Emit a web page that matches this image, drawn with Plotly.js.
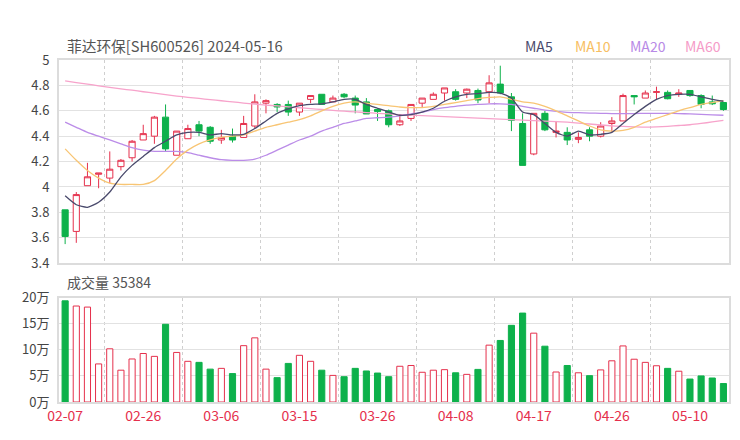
<!DOCTYPE html>
<html>
<head>
<meta charset="utf-8">
<script src="https://cdn.plot.ly/plotly-3.0.1.min.js"></script>
<style>
  body { margin: 0; background: #fff; }
  #chart { width: 740px; height: 440px; }
</style>
</head>
<body>
<div id="chart"></div>
<script>
// trading days shown (2024)
const dates = [
  "02-07", "02-08", "02-19", "02-20", "02-21", "02-22", "02-23", "02-26", "02-27", "02-28",
  "02-29", "03-01", "03-04", "03-05", "03-06", "03-07", "03-08", "03-11", "03-12", "03-13",
  "03-14", "03-15", "03-18", "03-19", "03-20", "03-21", "03-22", "03-25", "03-26", "03-27",
  "03-28", "03-29", "04-01", "04-02", "04-03", "04-08", "04-09", "04-10", "04-11", "04-12",
  "04-15", "04-16", "04-17", "04-18", "04-19", "04-22", "04-23", "04-24", "04-25", "04-26",
  "04-29", "04-30", "05-06", "05-07", "05-08", "05-09", "05-10", "05-13", "05-14", "05-15",
];
const labelDates = ["02-07", "02-26", "03-06", "03-15", "03-26", "04-08", "04-17", "04-26", "05-10"];

const openP = [
  3.82, 3.65, 4.01, 4.10, 4.07, 4.16, 4.23, 4.37, 4.40, 4.55,
  4.25, 4.38, 4.49, 4.47, 4.37, 4.40, 4.39, 4.48, 4.66, 4.65,
  4.65, 4.59, 4.69, 4.73, 4.67, 4.73, 4.70, 4.67, 4.61, 4.60,
  4.49, 4.54, 4.66, 4.69, 4.74, 4.75, 4.74, 4.76, 4.75, 4.81,
  4.71, 4.50, 4.26, 4.58, 4.43, 4.43, 4.375, 4.45, 4.40, 4.50,
  4.52, 4.72, 4.70, 4.745, 4.745, 4.73, 4.76, 4.72, 4.67, 4.665,
];
const highP = [
  3.82, 3.96, 4.19, 4.11, 4.28, 4.22, 4.37, 4.49, 4.56, 4.65,
  4.44, 4.49, 4.52, 4.48, 4.45, 4.46, 4.56, 4.73, 4.69, 4.66,
  4.68, 4.66, 4.72, 4.73, 4.72, 4.74, 4.72, 4.70, 4.62, 4.61,
  4.57, 4.65, 4.70, 4.745, 4.78, 4.77, 4.775, 4.775, 4.88, 4.955,
  4.74, 4.58, 4.58, 4.60, 4.52, 4.47, 4.43, 4.47, 4.51, 4.55,
  4.735, 4.72, 4.76, 4.79, 4.76, 4.77, 4.76, 4.73, 4.72, 4.67,
];
const lowP = [
  3.55, 3.56, 4.01, 3.99, 4.03, 4.13, 4.20, 4.37, 4.34, 4.28,
  4.25, 4.38, 4.40, 4.34, 4.34, 4.35, 4.39, 4.46, 4.58, 4.59,
  4.56, 4.56, 4.66, 4.65, 4.67, 4.70, 4.58, 4.575, 4.52, 4.47,
  4.48, 4.52, 4.63, 4.69, 4.68, 4.68, 4.70, 4.66, 4.66, 4.73,
  4.44, 4.17, 4.25, 4.44, 4.39, 4.33, 4.345, 4.36, 4.39, 4.43,
  4.52, 4.65, 4.70, 4.69, 4.69, 4.71, 4.71, 4.62, 4.645, 4.60,
];
const closeP = [
  3.61, 3.94, 4.08, 4.11, 4.14, 4.21, 4.36, 4.42, 4.55, 4.30,
  4.44, 4.46, 4.44, 4.36, 4.39, 4.37, 4.50, 4.67, 4.68, 4.63,
  4.59, 4.66, 4.72, 4.65, 4.70, 4.71, 4.645, 4.575, 4.595, 4.49,
  4.52, 4.65, 4.70, 4.73, 4.78, 4.69, 4.77, 4.685, 4.82, 4.74,
  4.525, 4.17, 4.58, 4.45, 4.44, 4.37, 4.39, 4.40, 4.48, 4.52,
  4.72, 4.71, 4.74, 4.75, 4.695, 4.74, 4.72, 4.65, 4.655, 4.61,
];

const ma5 = [
  3.93, 3.86, 3.84, 3.88, 3.96, 4.08, 4.17, 4.24, 4.31, 4.36,
  4.41, 4.43, 4.43, 4.41, 4.42, 4.41, 4.415, 4.46, 4.52, 4.58,
  4.615, 4.64, 4.65, 4.655, 4.67, 4.69, 4.69, 4.65, 4.62, 4.59,
  4.565, 4.57, 4.59, 4.62, 4.675, 4.71, 4.73, 4.735, 4.745, 4.74,
  4.70, 4.59, 4.57, 4.50, 4.43, 4.40, 4.44, 4.41, 4.415, 4.43,
  4.50, 4.57, 4.635, 4.69, 4.72, 4.73, 4.73, 4.71, 4.69, 4.675,
];
const ma10 = [
  4.30, 4.21, 4.13, 4.07, 4.03, 4.02, 4.02, 4.02, 4.05, 4.13,
  4.22, 4.29, 4.34, 4.37, 4.39, 4.40, 4.41, 4.44, 4.47, 4.49,
  4.51, 4.53, 4.56, 4.60, 4.635, 4.66, 4.67, 4.66, 4.65, 4.64,
  4.63, 4.625, 4.625, 4.635, 4.65, 4.665, 4.68, 4.695, 4.705, 4.71,
  4.69, 4.67, 4.66, 4.635, 4.60, 4.56, 4.52, 4.48, 4.45, 4.44,
  4.445, 4.47, 4.51, 4.54, 4.57, 4.60, 4.625, 4.65, 4.665, 4.68,
];
const ma20 = [
  4.51, 4.47, 4.43, 4.40, 4.37, 4.34, 4.31, 4.29, 4.28, 4.28,
  4.28, 4.27, 4.25, 4.23, 4.215, 4.21, 4.21, 4.22, 4.25, 4.29,
  4.33, 4.37, 4.40, 4.44, 4.47, 4.50, 4.52, 4.54, 4.545, 4.55,
  4.56, 4.575, 4.59, 4.61, 4.625, 4.635, 4.645, 4.65, 4.655, 4.655,
  4.65, 4.635, 4.62, 4.605, 4.595, 4.588, 4.585, 4.582, 4.58, 4.578,
  4.578, 4.578, 4.58, 4.58, 4.58, 4.578, 4.575, 4.572, 4.568, 4.565,
];
const ma60 = [
  4.835, 4.822, 4.81, 4.797, 4.785, 4.773, 4.762, 4.75, 4.739, 4.728,
  4.716, 4.706, 4.697, 4.688, 4.679, 4.67, 4.661, 4.652, 4.645, 4.638,
  4.631, 4.624, 4.617, 4.61, 4.603, 4.597, 4.591, 4.586, 4.58, 4.575,
  4.57, 4.566, 4.562, 4.558, 4.554, 4.55, 4.546, 4.542, 4.538, 4.534,
  4.53, 4.527, 4.523, 4.519, 4.515, 4.51, 4.503, 4.496, 4.488, 4.481,
  4.477, 4.474, 4.472, 4.474, 4.478, 4.484, 4.49, 4.50, 4.512, 4.525,
];

// volume in 万 shares, and whether the bar is drawn as an up (red) day
const volume = [
  19.4, 18.4, 18.2, 7.3, 10.2, 6.1, 8.25, 9.3, 8.75, 14.9,
  9.5, 7.8, 7.6, 6.3, 6.45, 5.45, 10.8, 12.3, 6.3, 4.67,
  7.4, 8.95, 7.8, 6.1, 5.1, 4.85, 6.45, 5.95, 5.55, 4.85,
  6.85, 7.0, 5.7, 6.1, 6.2, 5.6, 5.3, 6.25, 10.9, 11.8,
  14.7, 17.05, 13.2, 10.7, 5.75, 7.0, 5.6, 5.05, 6.15, 7.9,
  10.75, 8.2, 7.6, 6.95, 6.45, 5.9, 4.4, 5.0, 4.6, 3.54,
];
const volUp = [
  0, 1, 1, 1, 1, 1, 1, 1, 1, 0,
  1, 1, 0, 0, 1, 0, 1, 1, 1, 0,
  0, 1, 1, 0, 1, 0, 0, 0, 0, 0,
  1, 1, 1, 1, 1, 0, 1, 0, 1, 0,
  0, 0, 1, 0, 1, 0, 1, 0, 1, 1,
  1, 1, 1, 1, 0, 1, 0, 0, 0, 0,
];

const RED = "#e5304c";
const GREEN = "#0db14b";
const FONT = "Noto Sans CJK SC, Noto Sans, sans-serif";

const xs = dates.map((d, i) => i);
const tickIdx = labelDates.map((d) => dates.indexOf(d));
const sepIdx = tickIdx.map((i) => i + 3.5);

const candles = {
  type: "candlestick",
  x: xs,
  open: openP,
  high: highP,
  low: lowP,
  close: closeP,
  xaxis: "x",
  yaxis: "y",
  whiskerwidth: 0,
  increasing: { line: { color: RED, width: 1 }, fillcolor: "#ffffff" },
  decreasing: { line: { color: GREEN, width: 1 }, fillcolor: GREEN },
  hoverinfo: "skip",
};

function maLine(values, color) {
  return {
    type: "scatter",
    mode: "lines",
    x: xs,
    y: values,
    xaxis: "x",
    yaxis: "y",
    line: { color: color, width: 1.3, shape: "spline", smoothing: 0.6 },
    hoverinfo: "skip",
  };
}

const volBars = {
  type: "bar",
  x: xs,
  y: volume,
  xaxis: "x2",
  yaxis: "y2",
  width: 0.55,
  marker: {
    color: volUp.map((u) => (u ? "#ffffff" : GREEN)),
    line: { color: volUp.map((u) => (u ? RED : GREEN)), width: 1 },
  },
  hoverinfo: "skip",
};

const xBase = {
  range: [-0.55, 59.5],
  tickvals: tickIdx,
  ticktext: labelDates,
  showgrid: false,
  zeroline: false,
  showline: true,
  mirror: true,
  linecolor: "#dcdcdc",
  linewidth: 2,
  ticks: "",
  minor: {
    tickvals: sepIdx,
    showgrid: true,
    gridcolor: "#cfcfcf",
    griddash: "dot",
    gridwidth: 1,
    ticks: "",
  },
  fixedrange: true,
};

const yBase = {
  showgrid: true,
  gridcolor: "#e2e2e2",
  gridwidth: 1,
  zeroline: false,
  showline: true,
  mirror: true,
  linecolor: "#dcdcdc",
  linewidth: 2,
  ticks: "outside",
  ticklen: 5,
  tickcolor: "rgba(0,0,0,0)",
  tickfont: { size: 13, color: "#444" },
  fixedrange: true,
};

const legendItems = [
  { text: "MA5", color: "#4a4a6c", x: 0.717 },
  { text: "MA10", color: "#f7be62", x: 0.797 },
  { text: "MA20", color: "#b889e6", x: 0.879 },
  { text: "MA60", color: "#f59bc7", x: 0.961 },
];

const annotations = [
  {
    text: "菲达环保[SH600526] 2024-05-16",
    xref: "paper", yref: "paper", x: 0.009, y: 1.041,
    xanchor: "left", yanchor: "middle", showarrow: false,
    font: { size: 14.7, color: "#555" },
  },
  {
    text: "成交量 35384",
    xref: "paper", yref: "paper", x: 0.009, y: 0.351,
    xanchor: "left", yanchor: "middle", showarrow: false,
    font: { size: 14, color: "#555" },
  },
].concat(
  legendItems.map((l) => ({
    text: l.text,
    xref: "paper", yref: "paper", x: l.x, y: 1.041,
    xanchor: "center", yanchor: "middle", showarrow: false,
    font: { size: 14, color: l.color },
  })),
);

const layout = {
  width: 740,
  height: 440,
  margin: { l: 59, r: 11, t: 60, b: 38 },
  paper_bgcolor: "#ffffff",
  plot_bgcolor: "#ffffff",
  showlegend: false,
  font: { family: FONT, size: 13, color: "#444" },
  boxgap: 0.45,
  boxgroupgap: 0,
  xaxis: { ...xBase, anchor: "y", showticklabels: false, rangeslider: { visible: false } },
  xaxis2: { ...xBase, anchor: "y2", matches: "x", tickfont: { size: 14, color: RED } },
  yaxis: { ...yBase, domain: [0.406, 1], range: [3.4, 5], tick0: 3.4, dtick: 0.2 },
  yaxis2: { ...yBase, domain: [0, 0.305], range: [0, 20], tick0: 0, dtick: 5, ticksuffix: "万" },
  annotations: annotations,
};

Plotly.newPlot(
  "chart",
  [
    maLine(ma60, "#f7a3cb"),
    maLine(ma20, "#bb8ce8"),
    maLine(ma10, "#f8c574"),
    candles,
    maLine(ma5, "#4a4a6c"),
    volBars,
  ],
  layout,
  { displayModeBar: false, staticPlot: true },
);
</script>
</body>
</html>
